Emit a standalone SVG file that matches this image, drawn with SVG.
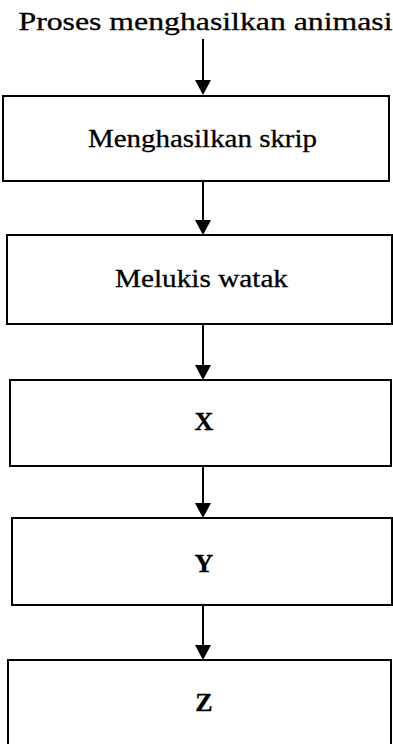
<svg xmlns="http://www.w3.org/2000/svg" width="393" height="744" viewBox="0 0 393 744">
<style>
.box{fill:#fff;stroke:#000;stroke-width:2}
.t{font-family:"Liberation Serif","Times New Roman",serif;font-size:25px;fill:#000;stroke:#000;stroke-width:0.3;text-anchor:middle}
.b{font-weight:bold;font-size:26px}
.c{stroke:#000;stroke-width:2;fill:none}
.h{fill:#000}
</style>
<rect width="393" height="744" fill="#fff"/>
<text class="t" x="205.5" y="30" textLength="374" lengthAdjust="spacingAndGlyphs">Proses menghasilkan animasi</text>
<g id="connectors">
<line class="c" x1="203" y1="39" x2="203" y2="81"/>
<path class="h" d="M195,80 L211,80 L203,95 Z"/>
<line class="c" x1="203" y1="181" x2="203" y2="221"/>
<path class="h" d="M195,220 L211,220 L203,235 Z"/>
<line class="c" x1="203" y1="324" x2="203" y2="366"/>
<path class="h" d="M195,365 L211,365 L203,380 Z"/>
<line class="c" x1="203" y1="466" x2="203" y2="504"/>
<path class="h" d="M195,503 L211,503 L203,518 Z"/>
<line class="c" x1="203" y1="605" x2="203" y2="646"/>
<path class="h" d="M195,645 L211,645 L203,660 Z"/>
</g>
<g id="n1"><rect class="box" x="3" y="96" width="386" height="85"/><text class="t" x="202.5" y="147" textLength="229" lengthAdjust="spacingAndGlyphs">Menghasilkan skrip</text></g>
<g id="n2"><rect class="box" x="7" y="235" width="385" height="89"/><text class="t" x="201.5" y="287" textLength="173" lengthAdjust="spacingAndGlyphs">Melukis watak</text></g>
<g id="n3"><rect class="box" x="10" y="380" width="381" height="86"/><text class="t b" x="204" y="430">X</text></g>
<g id="n4"><rect class="box" x="12" y="518" width="380" height="87"/><text class="t b" x="204" y="572">Y</text></g>
<g id="n5"><rect class="box" x="8" y="660" width="383" height="95"/><text class="t b" x="204" y="711">Z</text></g>
</svg>
